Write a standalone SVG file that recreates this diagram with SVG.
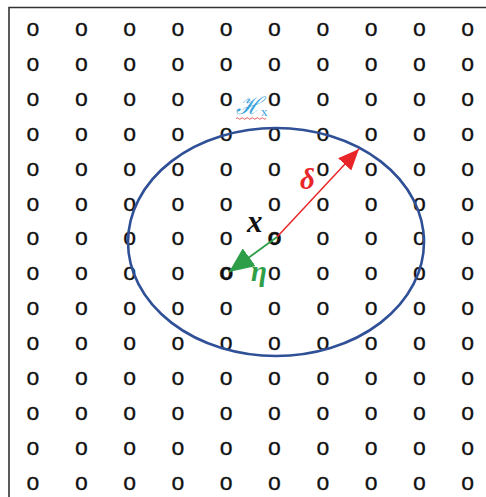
<svg xmlns="http://www.w3.org/2000/svg" width="486" height="497" viewBox="0 0 486 497">
<defs>
<style>
.o{font-family:"Liberation Sans",Arial,sans-serif;font-size:23px;fill:#111;stroke:#111;stroke-width:0.3;text-anchor:middle}
.lbl{font-family:"Liberation Serif","Times New Roman",serif;font-weight:bold;font-style:italic}
</style>
<marker id="ar" markerUnits="userSpaceOnUse" markerWidth="22" markerHeight="18" refX="21" refY="9" orient="auto"><path d="M0,0 L21,9 L0,18 Z" fill="#E8262A"/></marker>
<marker id="ag" markerUnits="userSpaceOnUse" markerWidth="26" markerHeight="22" refX="25" refY="11" orient="auto"><path d="M0,0 L25,11 L0,22 Z" fill="#2E9E48"/></marker>
</defs>
<rect width="486" height="497" fill="#fff"/>
<path d="M9,497 V7.5 H486" fill="none" stroke="#333" stroke-width="1.6"/>
<g id="grid">
<g id="r0"><text class="o" x="33" y="36">o</text><text class="o" x="81.3" y="36">o</text><text class="o" x="129.6" y="36">o</text><text class="o" x="177.9" y="36">o</text><text class="o" x="226.2" y="36">o</text><text class="o" x="274.5" y="36">o</text><text class="o" x="322.8" y="36">o</text><text class="o" x="371.1" y="36">o</text><text class="o" x="419.4" y="36">o</text><text class="o" x="467.7" y="36">o</text></g>
<g id="r1" transform="translate(0,34.9)"><text class="o" x="33" y="36">o</text><text class="o" x="81.3" y="36">o</text><text class="o" x="129.6" y="36">o</text><text class="o" x="177.9" y="36">o</text><text class="o" x="226.2" y="36">o</text><text class="o" x="274.5" y="36">o</text><text class="o" x="322.8" y="36">o</text><text class="o" x="371.1" y="36">o</text><text class="o" x="419.4" y="36">o</text><text class="o" x="467.7" y="36">o</text></g>
<g id="r2" transform="translate(0,69.8)"><text class="o" x="33" y="36">o</text><text class="o" x="81.3" y="36">o</text><text class="o" x="129.6" y="36">o</text><text class="o" x="177.9" y="36">o</text><text class="o" x="226.2" y="36">o</text><text class="o" x="274.5" y="36">o</text><text class="o" x="322.8" y="36">o</text><text class="o" x="371.1" y="36">o</text><text class="o" x="419.4" y="36">o</text><text class="o" x="467.7" y="36">o</text></g>
<g id="r3" transform="translate(0,104.7)"><text class="o" x="33" y="36">o</text><text class="o" x="81.3" y="36">o</text><text class="o" x="129.6" y="36">o</text><text class="o" x="177.9" y="36">o</text><text class="o" x="226.2" y="36">o</text><text class="o" x="274.5" y="36">o</text><text class="o" x="322.8" y="36">o</text><text class="o" x="371.1" y="36">o</text><text class="o" x="419.4" y="36">o</text><text class="o" x="467.7" y="36">o</text></g>
<g id="r4" transform="translate(0,139.6)"><text class="o" x="33" y="36">o</text><text class="o" x="81.3" y="36">o</text><text class="o" x="129.6" y="36">o</text><text class="o" x="177.9" y="36">o</text><text class="o" x="226.2" y="36">o</text><text class="o" x="274.5" y="36">o</text><text class="o" x="322.8" y="36">o</text><text class="o" x="371.1" y="36">o</text><text class="o" x="419.4" y="36">o</text><text class="o" x="467.7" y="36">o</text></g>
<g id="r5" transform="translate(0,174.5)"><text class="o" x="33" y="36">o</text><text class="o" x="81.3" y="36">o</text><text class="o" x="129.6" y="36">o</text><text class="o" x="177.9" y="36">o</text><text class="o" x="226.2" y="36">o</text><text class="o" x="274.5" y="36">o</text><text class="o" x="322.8" y="36">o</text><text class="o" x="371.1" y="36">o</text><text class="o" x="419.4" y="36">o</text><text class="o" x="467.7" y="36">o</text></g>
<g id="r6" transform="translate(0,209.4)"><text class="o" x="33" y="36">o</text><text class="o" x="81.3" y="36">o</text><text class="o" x="129.6" y="36">o</text><text class="o" x="177.9" y="36">o</text><text class="o" x="226.2" y="36">o</text><text class="o" x="274.5" y="36" font-weight="bold">o</text><text class="o" x="322.8" y="36">o</text><text class="o" x="371.1" y="36">o</text><text class="o" x="419.4" y="36">o</text><text class="o" x="467.7" y="36">o</text></g>
<g id="r7" transform="translate(0,244.3)"><text class="o" x="33" y="36">o</text><text class="o" x="81.3" y="36">o</text><text class="o" x="129.6" y="36">o</text><text class="o" x="177.9" y="36">o</text><text class="o" x="226.2" y="36" font-weight="bold">o</text><text class="o" x="274.5" y="36">o</text><text class="o" x="322.8" y="36">o</text><text class="o" x="371.1" y="36">o</text><text class="o" x="419.4" y="36">o</text><text class="o" x="467.7" y="36">o</text></g>
<g id="r8" transform="translate(0,279.2)"><text class="o" x="33" y="36">o</text><text class="o" x="81.3" y="36">o</text><text class="o" x="129.6" y="36">o</text><text class="o" x="177.9" y="36">o</text><text class="o" x="226.2" y="36">o</text><text class="o" x="274.5" y="36">o</text><text class="o" x="322.8" y="36">o</text><text class="o" x="371.1" y="36">o</text><text class="o" x="419.4" y="36">o</text><text class="o" x="467.7" y="36">o</text></g>
<g id="r9" transform="translate(0,314.1)"><text class="o" x="33" y="36">o</text><text class="o" x="81.3" y="36">o</text><text class="o" x="129.6" y="36">o</text><text class="o" x="177.9" y="36">o</text><text class="o" x="226.2" y="36">o</text><text class="o" x="274.5" y="36">o</text><text class="o" x="322.8" y="36">o</text><text class="o" x="371.1" y="36">o</text><text class="o" x="419.4" y="36">o</text><text class="o" x="467.7" y="36">o</text></g>
<g id="r10" transform="translate(0,349)"><text class="o" x="33" y="36">o</text><text class="o" x="81.3" y="36">o</text><text class="o" x="129.6" y="36">o</text><text class="o" x="177.9" y="36">o</text><text class="o" x="226.2" y="36">o</text><text class="o" x="274.5" y="36">o</text><text class="o" x="322.8" y="36">o</text><text class="o" x="371.1" y="36">o</text><text class="o" x="419.4" y="36">o</text><text class="o" x="467.7" y="36">o</text></g>
<g id="r11" transform="translate(0,383.9)"><text class="o" x="33" y="36">o</text><text class="o" x="81.3" y="36">o</text><text class="o" x="129.6" y="36">o</text><text class="o" x="177.9" y="36">o</text><text class="o" x="226.2" y="36">o</text><text class="o" x="274.5" y="36">o</text><text class="o" x="322.8" y="36">o</text><text class="o" x="371.1" y="36">o</text><text class="o" x="419.4" y="36">o</text><text class="o" x="467.7" y="36">o</text></g>
<g id="r12" transform="translate(0,418.8)"><text class="o" x="33" y="36">o</text><text class="o" x="81.3" y="36">o</text><text class="o" x="129.6" y="36">o</text><text class="o" x="177.9" y="36">o</text><text class="o" x="226.2" y="36">o</text><text class="o" x="274.5" y="36">o</text><text class="o" x="322.8" y="36">o</text><text class="o" x="371.1" y="36">o</text><text class="o" x="419.4" y="36">o</text><text class="o" x="467.7" y="36">o</text></g>
<g id="r13" transform="translate(0,453.7)"><text class="o" x="33" y="36">o</text><text class="o" x="81.3" y="36">o</text><text class="o" x="129.6" y="36">o</text><text class="o" x="177.9" y="36">o</text><text class="o" x="226.2" y="36">o</text><text class="o" x="274.5" y="36">o</text><text class="o" x="322.8" y="36">o</text><text class="o" x="371.1" y="36">o</text><text class="o" x="419.4" y="36">o</text><text class="o" x="467.7" y="36">o</text></g>
</g>
<g id="region">
<ellipse cx="276" cy="242" rx="148" ry="114" fill="none" stroke="#2F4F96" stroke-width="2.6"/>
</g>
<g id="connectors">
<line x1="277" y1="237" x2="359" y2="149" stroke="#E8262A" stroke-width="1.5" marker-end="url(#ar)"/>
<line x1="277" y1="237" x2="229" y2="272" stroke="#2E9E48" stroke-width="1.8" marker-end="url(#ag)"/>
</g>
<g id="labels">
<text class="lbl" x="247" y="232" font-size="31" fill="#111">x</text>
<text class="lbl" x="251" y="281" font-size="29" fill="#2E9E48">η</text>
<text class="lbl" x="300" y="189" font-size="29" fill="#E8262A">δ</text>
<text x="236" y="114" font-family="'DejaVu Serif',serif" font-style="italic" font-size="24" fill="#3AA3DC">ℋ<tspan font-family="'Liberation Serif',serif" font-style="normal" font-size="13" dy="2">x</tspan></text>
<path d="M236,118.5 q1.25,-1.5 2.5,0 t2.5,0 t2.5,0 t2.5,0 t2.5,0 t2.5,0 t2.5,0 t2.5,0 t2.5,0 t2.5,0 t2.5,0 t2.5,0" fill="none" stroke="#E03030" stroke-width="0.8"/>
</g>
</svg>
